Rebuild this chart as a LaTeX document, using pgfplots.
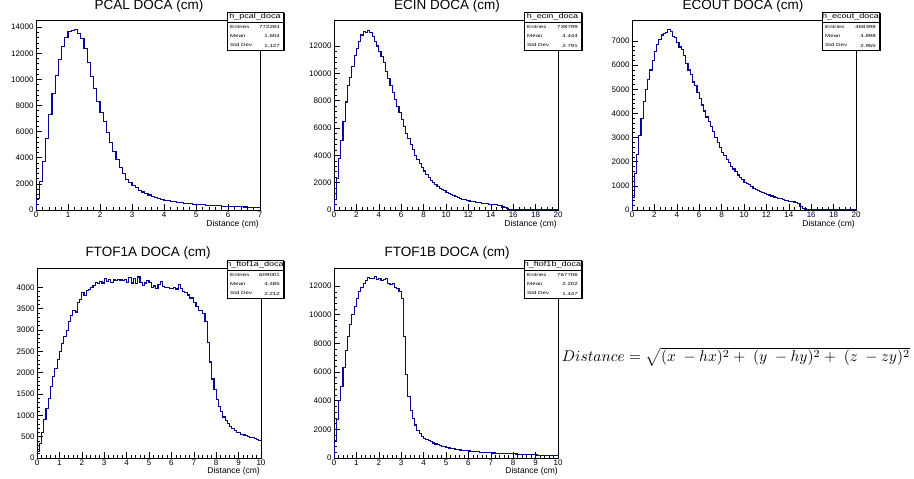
\documentclass[border=0pt]{standalone}
\usepackage{pgfplots}
\pgfplotsset{compat=1.18}
\usepackage{fontspec}
\setmainfont{Liberation Sans}
\usepackage{graphicx}
\definecolor{hblue}{rgb}{0.03,0.03,0.58}
\pgfplotsset{rootaxis/.style={
  scale only axis, width=224pt, height=190pt,
  anchor=south west,
  axis line style={line width=0.7pt},
  tick align=inside, tick pos=left,
  minor tick num=4,
  major tick length=6pt, minor tick length=3pt,
  every tick/.style={black, line width=0.55pt},
  ticklabel style={font=\fontsize{8}{9}\selectfont},
  /pgf/number format/assume math mode=true,
  /pgf/number format/set thousands separator={},
  scaled y ticks=false, scaled x ticks=false,
  xmin=0, ymin=0,
  xticklabel style={yshift=1.5pt},
  yticklabel style={xshift=1pt},
}}
\newcommand{\hist}[1]{\addplot[const plot mark left, hblue, line width=1.1pt] coordinates {#1};}
\newcommand{\statbox}[8]{% xl xr ytop ybot yhead name entries mean
  \fill[black] (#1+1.5,#4-1.5) rectangle (#2+1.5,#3-1.5);
  \draw[fill=white, line width=0.6pt] (#1,#4) rectangle (#2,#3);
  \draw[line width=0.6pt] (#1,#5) -- (#2,#5);
  \node[inner sep=0pt] at ({(#1+#2)/2},{(#3+#5)/2+0.3}) {\scalebox{1.25}[1]{\fontsize{7.2}{8}\selectfont #6}};
  \node[inner sep=0pt, anchor=west] at (#1+3,#5-4.5) {\scalebox{1.4}[1]{\fontsize{4.4}{5}\selectfont Entries}};
  \node[inner sep=0pt, anchor=west] at (#1+3,#5-14) {\scalebox{1.4}[1]{\fontsize{4.4}{5}\selectfont Mean}};
  \node[inner sep=0pt, anchor=west] at (#1+3,#5-23) {\scalebox{1.4}[1]{\fontsize{4.4}{5}\selectfont Std Dev}};
  \node[inner sep=0pt, anchor=east] at (#2-3,#5-4.5) {\scalebox{1.4}[1]{\fontsize{4.4}{5}\selectfont #7}};
  \node[inner sep=0pt, anchor=east] at (#2-3,#5-14) {\scalebox{1.4}[1]{\fontsize{4.4}{5}\selectfont #8}};
}
\newcommand{\statstd}[4]{% xl xr yhead std
  \node[inner sep=0pt, anchor=east] at (#2-3,#3-23.5) {\scalebox{1.4}[1]{\fontsize{4.4}{5}\selectfont #4}};
}
\begin{document}
\begin{tikzpicture}[x=1pt,y=1pt]
\useasboundingbox (0,0) rectangle (914,479);
% ---------------- PCAL
\begin{axis}[rootaxis, at={(36pt,269pt)}, xmax=7, ymax=14550,
  xtick={0,1,...,7}, ytick={0,2000,...,14000}]
\hist{(0,0) (0.0,900) (0.1,2200) (0.2,3700) (0.3,5500) (0.4,7300) (0.5,8900) (0.6,10300) (0.7,11500) (0.8,12500) (0.9,13200)
(1.0,13700) (1.1,13750) (1.2,13850) (1.3,13500) (1.4,13100) (1.5,12400) (1.6,11300) (1.7,10200) (1.8,9300) (1.9,8300)
(2.0,7500) (2.1,6800) (2.2,5900) (2.3,5200) (2.4,4500) (2.5,3850) (2.6,3250) (2.7,2800) (2.8,2350) (2.9,2100)
(3.0,1850) (3.1,1700) (3.2,1500) (3.3,1380) (3.4,1250) (3.5,1150) (3.6,1050) (3.7,960) (3.8,880) (3.9,810)
(4.0,740) (4.1,700) (4.2,660) (4.3,620) (4.4,590) (4.5,560) (4.6,530) (4.7,500) (4.8,475) (4.9,450)
(5.0,430) (5.1,410) (5.2,390) (5.3,370) (5.4,355) (5.5,340) (5.6,325) (5.7,310) (5.8,300) (5.9,290)
(6.0,280) (6.1,265) (6.2,255) (6.3,245) (6.4,240) (6.5,230) (6.6,225) (6.7,220) (6.8,212) (6.9,205) (7.0,205)}
\end{axis}
% ---------------- ECIN
\begin{axis}[rootaxis, at={(334pt,269pt)}, xmax=20, ymax=13900,
  xtick={0,2,...,20}, minor x tick num=3, ytick={0,2000,...,12000}]
\hist{(0,0) (0.0,800) (0.2,2300) (0.4,3800) (0.6,5100) (0.8,6500) (1.0,7900) (1.2,9100) (1.4,9700) (1.6,10500) (1.8,11300)
(2.0,11800) (2.2,12300) (2.4,12800) (2.6,13050) (2.8,13000) (3.0,13150) (3.2,13000) (3.4,12700) (3.6,12300) (3.8,12000)
(4.0,11600) (4.2,11200) (4.4,10800) (4.6,10100) (4.8,9600) (5.0,9100) (5.2,8600) (5.4,8100) (5.6,7600) (5.8,7100)
(6.0,6600) (6.2,6100) (6.4,5600) (6.6,5200) (6.8,4800) (7.0,4400) (7.2,4000) (7.4,3700) (7.6,3400) (7.8,3100)
(8.0,2850) (8.2,2600) (8.4,2350) (8.6,2150) (8.8,1980) (9.0,1850) (9.2,1720) (9.4,1600) (9.6,1500) (9.8,1400)
(10.0,1300) (10.2,1220) (10.4,1140) (10.6,1060) (10.8,980) (11.0,900) (11.2,840) (11.4,790) (11.6,740) (11.8,700)
(12.0,660) (12.2,630) (12.4,600) (12.6,570) (12.8,540) (13.0,520) (13.2,500) (13.4,480) (13.6,450) (13.8,430)
(14.0,410) (14.2,390) (14.4,370) (14.6,340) (14.8,300) (15.0,220) (15.2,150) (15.4,100) (15.6,60) (15.8,35)
(16.0,20) (16.2,10) (16.4,5) (16.6,0) (20.0,0)}
\end{axis}
% ---------------- ECOUT
\begin{axis}[rootaxis, at={(632pt,269pt)}, xmax=20, ymax=7870,
  xtick={0,2,...,20}, minor x tick num=3, ytick={0,1000,...,7000}]
\hist{(0,0) (0.0,500) (0.2,1500) (0.4,2300) (0.6,3100) (0.8,3800) (1.0,4500) (1.2,5000) (1.4,5400) (1.6,5800) (1.8,6200)
(2.0,6550) (2.2,6850) (2.4,7050) (2.6,7250) (2.8,7300) (3.0,7350) (3.2,7480) (3.4,7380) (3.6,7200) (3.8,7150)
(4.0,6950) (4.2,6750) (4.4,6650) (4.6,6400) (4.8,6050) (5.0,5800) (5.2,5600) (5.4,5300) (5.6,5150) (5.8,4850)
(6.0,4600) (6.2,4350) (6.4,4100) (6.6,3850) (6.8,3650) (7.0,3450) (7.2,3250) (7.4,3000) (7.6,2800) (7.8,2600)
(8.0,2400) (8.2,2250) (8.4,2100) (8.6,1950) (8.8,1800) (9.0,1700) (9.2,1600) (9.4,1450) (9.6,1350) (9.8,1250)
(10.0,1150) (10.2,1100) (10.4,1040) (10.6,980) (10.8,900) (11.0,860) (11.2,820) (11.4,780) (11.6,740) (11.8,700)
(12.0,660) (12.2,620) (12.4,580) (12.6,540) (12.8,510) (13.0,480) (13.2,460) (13.4,440) (13.6,410) (13.8,390)
(14.0,370) (14.2,350) (14.4,330) (14.6,310) (14.8,270) (15.0,150) (15.2,80) (15.4,40) (15.6,15) (15.8,5)
(16.0,0) (20.0,0)}
\end{axis}
% ---------------- FTOF1A
\begin{axis}[rootaxis, at={(37pt,21pt)}, xmax=10, ymax=4452,
  xtick={0,1,...,10}, ytick={0,500,...,4000}]
\hist{(0,0) (0.0,150) (0.1,350) (0.2,600) (0.3,900) (0.4,1150) (0.5,1400) (0.6,1680) (0.7,1900) (0.8,2100) (0.9,2300)
(1.0,2500) (1.1,2680) (1.2,2850) (1.3,2980) (1.4,3200) (1.5,3330) (1.6,3450) (1.7,3420) (1.8,3650) (1.9,3720)
(2.0,3870) (2.1,3800) (2.2,3920) (2.3,3950) (2.4,4000) (2.5,4050) (2.6,4120) (2.7,4080) (2.8,4130) (2.9,4100)
(3.0,4200) (3.1,4130) (3.2,4180) (3.3,4120) (3.4,4170) (3.5,4160) (3.6,4180) (3.7,4170) (3.8,4150) (3.9,4190)
(4.0,4120) (4.1,4230) (4.2,4100) (4.3,4200) (4.4,4080) (4.5,4240) (4.6,4120) (4.7,4050) (4.8,4100) (4.9,4150)
(5.0,4120) (5.1,4000) (5.2,4030) (5.3,3970) (5.4,4060) (5.5,4130) (5.6,4020) (5.7,4000) (5.8,3990) (5.9,3980)
(6.0,3970) (6.1,3990) (6.2,3960) (6.3,4060) (6.4,3980) (6.5,3900) (6.6,3880) (6.7,3820) (6.8,3750) (6.9,3750)
(7.0,3650) (7.1,3560) (7.2,3460) (7.3,3450) (7.4,3380) (7.5,3200) (7.6,2700) (7.7,2250) (7.8,1850) (7.9,1600)
(8.0,1380) (8.1,1200) (8.2,1080) (8.3,960) (8.4,880) (8.5,810) (8.6,740) (8.7,690) (8.8,650) (8.9,600)
(9.0,590) (9.1,560) (9.2,540) (9.3,520) (9.4,500) (9.5,490) (9.6,470) (9.7,450) (9.8,430) (9.9,410) (10.0,410)}
\end{axis}
% ---------------- FTOF1B
\begin{axis}[rootaxis, at={(334pt,21pt)}, xmax=10, ymax=13260,
  xtick={0,1,...,10}, ytick={0,2000,...,12000}]
\hist{(0,0) (0.0,1200) (0.1,2700) (0.2,4000) (0.3,5000) (0.4,6300) (0.5,7500) (0.6,8500) (0.7,9300) (0.8,10000) (0.9,10600)
(1.0,11100) (1.1,11600) (1.2,11900) (1.3,12200) (1.4,12400) (1.5,12600) (1.6,12500) (1.7,12550) (1.8,12650) (1.9,12450)
(2.0,12550) (2.1,12400) (2.2,12450) (2.3,12500) (2.4,12150) (2.5,12100) (2.6,12200) (2.7,11900) (2.8,11800) (2.9,11600)
(3.0,11100) (3.1,8500) (3.2,5800) (3.3,4300) (3.4,3300) (3.5,2750) (3.6,2300) (3.7,1950) (3.8,1700) (3.9,1500)
(4.0,1380) (4.1,1300) (4.2,1200) (4.3,1120) (4.4,1050) (4.5,980) (4.6,920) (4.7,870) (4.8,820) (4.9,780)
(5.0,740) (5.1,700) (5.2,670) (5.3,640) (5.4,610) (5.5,580) (5.6,560) (5.7,540) (5.8,520) (5.9,500)
(6.0,490) (6.1,470) (6.2,455) (6.3,440) (6.4,425) (6.5,415) (6.6,400) (6.7,390) (6.8,380) (6.9,370)
(7.0,360) (7.1,350) (7.2,340) (7.3,330) (7.4,325) (7.5,320) (7.6,312) (7.7,305) (7.8,300) (7.9,295)
(8.0,290) (8.1,280) (8.2,272) (8.3,265) (8.4,258) (8.5,250) (8.6,242) (8.7,235) (8.8,228) (8.9,220)
(9.0,212) (9.1,205) (9.2,198) (9.3,190) (9.4,185) (9.5,180) (9.6,175) (9.7,170) (9.8,165) (9.9,160) (10.0,160)}
\end{axis}
% ---------------- titles
\begin{scope}[every node/.style={font=\fontsize{13.5}{15}\selectfont, inner sep=0pt}]
\node at (149,473) {PCAL DOCA (cm)};
\node at (447,473) {ECIN DOCA (cm)};
\node at (743,473) {ECOUT DOCA (cm)};
\node at (148,226) {FTOF1A DOCA (cm)};
\node at (447,226) {FTOF1B DOCA (cm)};
\end{scope}
\begin{scope}[every node/.style={font=\fontsize{8.5}{10}\selectfont, inner sep=0pt, anchor=east}]
\node at (259,255) {Distance (cm)};
\node at (557,255) {Distance (cm)};
\node at (855,255) {Distance (cm)};
\node at (260,8) {Distance (cm)};
\node at (558,8) {Distance (cm)};
\end{scope}
% ---------------- stat boxes
\statbox{227}{283}{467}{429}{457}{h\_pcal\_doca}{772284}{1.604}\statstd{227}{283}{457}{1.127}
\statbox{524}{581}{467}{429}{457}{h\_ecin\_doca}{738799}{4.444}\statstd{524}{581}{457}{2.791}
\statbox{822}{879}{467}{429}{457}{h\_ecout\_doca}{468398}{4.898}\statstd{822}{879}{457}{2.955}
\statbox{227}{283}{219}{181}{209}{h\_ftof1a\_doca}{609001}{4.485}\statstd{227}{283}{209}{2.212}
\statbox{524}{581}{219}{181}{209}{h\_ftof1b\_doca}{767706}{2.202}\statstd{524}{581}{209}{1.447}
% ---------------- formula
\node[inner sep=0pt] at (736,122) {\resizebox{348pt}{!}{$Distance = \sqrt{(x\;-hx)^2+\;(y\;-hy)^2+\;(z\;-zy)^2}$}};
\end{tikzpicture}
\end{document}
